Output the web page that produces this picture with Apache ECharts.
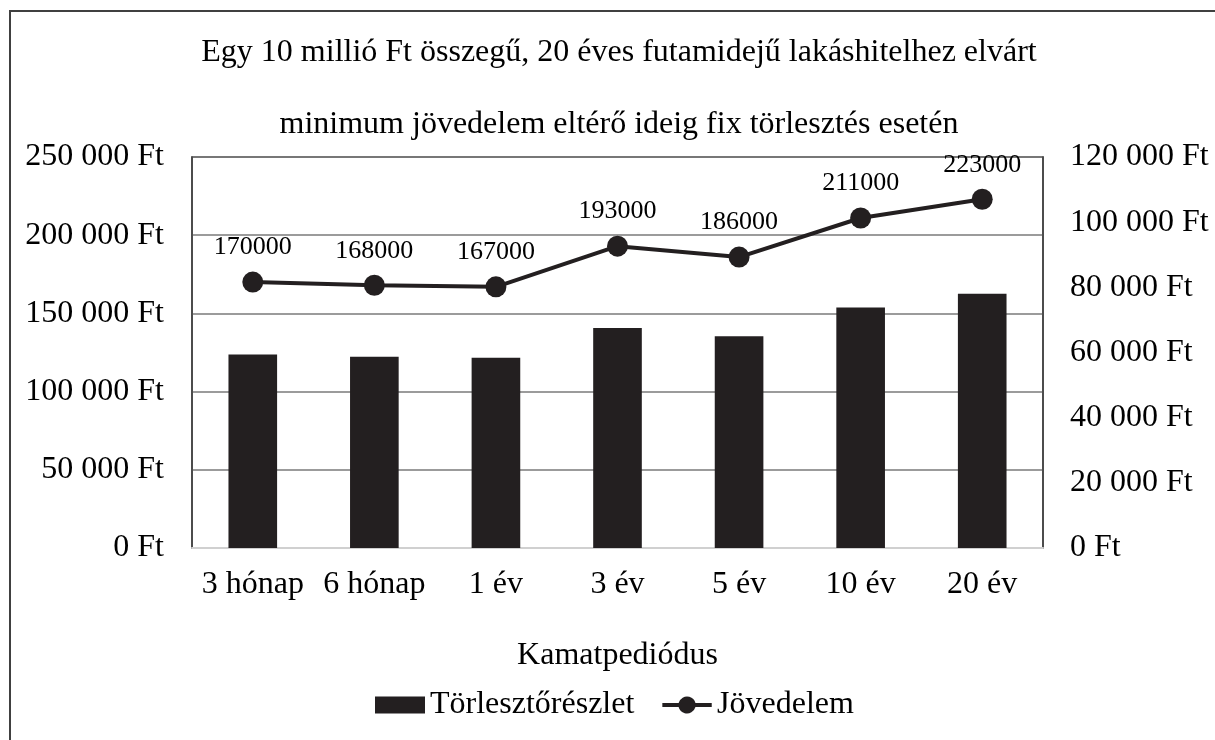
<!DOCTYPE html>
<html>
<head>
<meta charset="utf-8">
<script src="https://cdn.jsdelivr.net/npm/echarts@6/dist/echarts.min.js"></script>
<style>
html,body{margin:0;padding:0;background:#fff;}
#chart{width:1215px;height:740px;}
</style>
</head>
<body>
<div id="chart"></div>
<script>
const titleLines = ['Egy 10 millió Ft összegű, 20 éves futamidejű lakáshitelhez elvárt', 'minimum jövedelem eltérő ideig fix törlesztés esetén'];
const categories = ['3 hónap', '6 hónap', '1 év', '3 év', '5 év', '10 év', '20 év'];
const installment = [59400, 58700, 58400, 67500, 65000, 73800, 78000];
const income = [170000, 168000, 167000, 193000, 186000, 211000, 223000];
const xName = 'Kamatpediódus';
const seriesNames = ['Törlesztőrészlet', 'Jövedelem'];

const FONT = "'Liberation Serif', 'Times New Roman', serif";
const INK = '#231f20';
const FS = 32;
function ft(v) {
  return String(v).replace(/\B(?=(\d{3})+(?!\d))/g, ' ') + ' Ft';
}
// legend icon: thick line with a dot in the middle
const lineDotIcon = 'path://M0,7H15.8A8.5,8.5 0 0 1 32.2,7H48V11H32.2A8.5,8.5 0 0 1 15.8,11H0Z';

const chart = echarts.init(document.getElementById('chart'), null, {renderer: 'canvas'});
chart.setOption({
  backgroundColor: '#fff',
  animation: false,
  textStyle: {fontFamily: FONT, color: '#000'},
  graphic: [{
    type: 'rect',
    shape: {x: 10, y: 11, width: 1400, height: 1000},
    style: {fill: 'none', stroke: '#404040', lineWidth: 2},
    silent: true
  }],
  title: {
    text: titleLines.join('\n'),
    left: 614,
    textAlign: 'center',
    top: 12,
    textStyle: {fontFamily: FONT, fontSize: FS, fontWeight: 'normal', color: '#000', lineHeight: 72}
  },
  legend: {
    data: [
      {name: seriesNames[0], icon: 'rect'},
      {name: seriesNames[1], icon: lineDotIcon}
    ],
    left: 375,
    top: 689,
    padding: 0,
    itemWidth: 50,
    itemHeight: 17,
    itemGap: 28,
    textStyle: {fontFamily: FONT, fontSize: FS, color: '#000'}
  },
  grid: {
    left: 192, right: 172, top: 157, bottom: 192,
    show: true, borderColor: '#404040', borderWidth: 1.5,
    containLabel: false
  },
  xAxis: {
    type: 'category',
    data: categories,
    name: xName,
    nameLocation: 'middle',
    nameGap: 92,
    nameTextStyle: {fontFamily: FONT, fontSize: FS, color: '#000'},
    axisTick: {show: false},
    axisLine: {show: true, lineStyle: {color: '#d0d0d0', width: 2}},
    axisLabel: {interval: 0, fontFamily: FONT, fontSize: FS, color: '#000', margin: 21}
  },
  yAxis: [{
    type: 'value',
    position: 'left',
    min: 0, max: 250000, interval: 50000,
    axisLine: {show: true, lineStyle: {color: '#404040', width: 1.5}},
    axisTick: {show: false},
    splitLine: {show: true, lineStyle: {color: '#7a7a7a', width: 1.5}},
    axisLabel: {fontFamily: FONT, fontSize: FS, color: '#000', margin: 28, formatter: ft}
  }, {
    type: 'value',
    position: 'right',
    min: 0, max: 120000, interval: 20000,
    axisLine: {show: true, lineStyle: {color: '#404040', width: 1.5}},
    axisTick: {show: false},
    splitLine: {show: false},
    axisLabel: {fontFamily: FONT, fontSize: FS, color: '#000', margin: 27, formatter: ft}
  }],
  series: [{
    name: seriesNames[0],
    type: 'bar',
    yAxisIndex: 1,
    data: installment,
    barWidth: '40%',
    itemStyle: {color: INK}
  }, {
    name: seriesNames[1],
    type: 'line',
    yAxisIndex: 0,
    data: income,
    symbol: 'circle',
    symbolSize: 21,
    lineStyle: {color: INK, width: 4},
    itemStyle: {color: INK},
    label: {show: true, position: 'top', distance: 11, fontFamily: FONT, fontSize: 26, color: '#000'},
    z: 5
  }]
});
</script>
</body>
</html>
